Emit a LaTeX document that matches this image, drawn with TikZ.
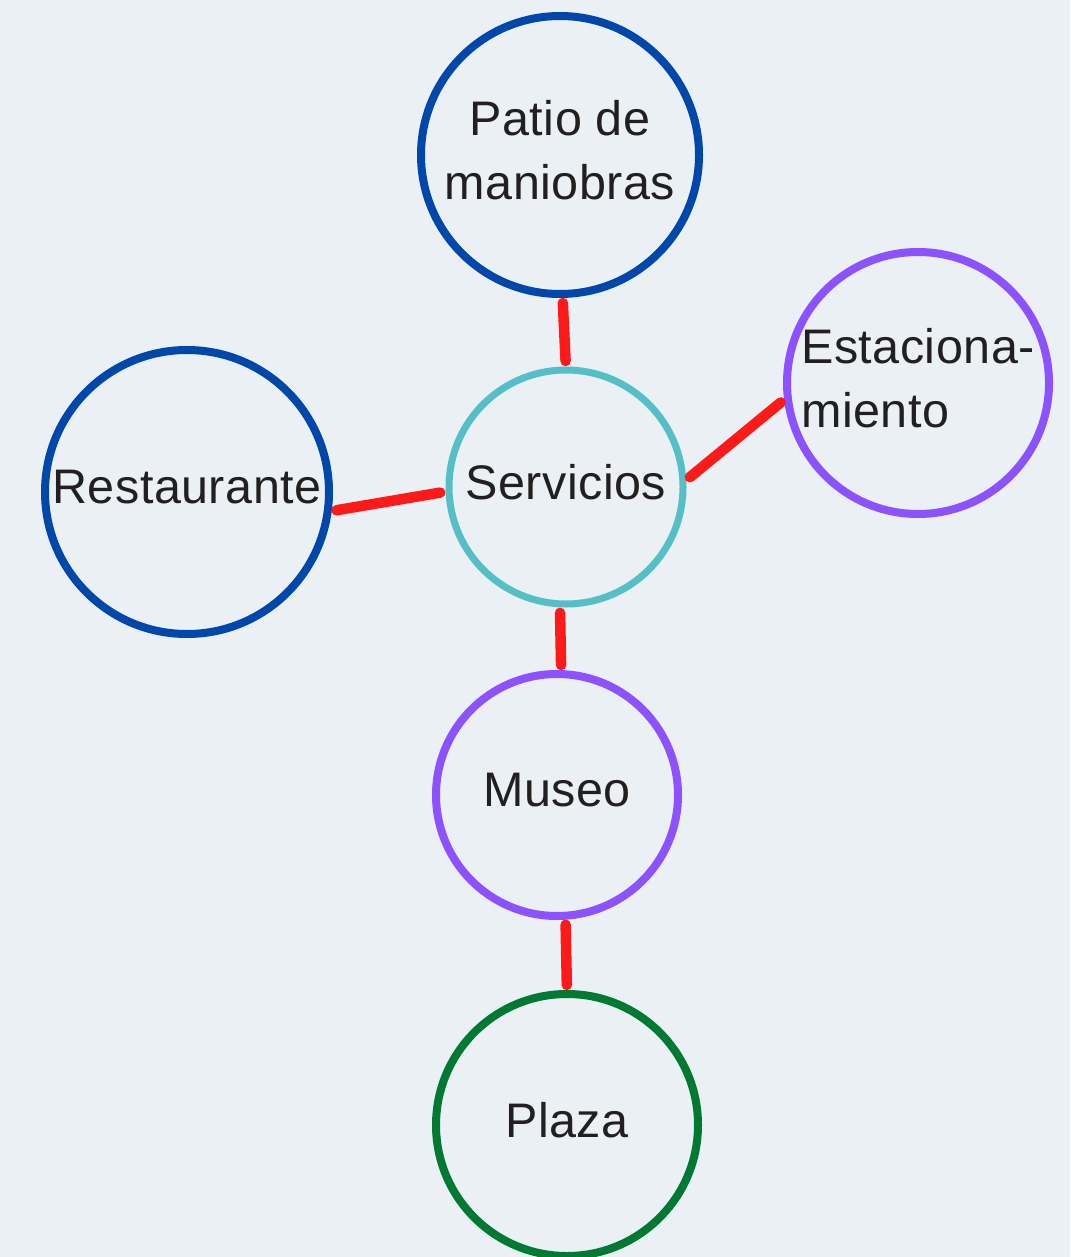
\documentclass[tikz,border=0pt]{standalone}
\usepackage{fontspec}
\setmainfont[LetterSpace=1]{Liberation Sans}
\definecolor{bgc}{HTML}{EAF0F3}
\definecolor{cblue}{HTML}{0047AB}
\definecolor{cpurple}{HTML}{8C52FF}
\definecolor{cteal}{HTML}{55BFC8}
\definecolor{cgreen}{HTML}{007A33}
\definecolor{cred}{HTML}{FF1A1A}
\definecolor{ctext}{HTML}{231F20}
\tikzset{
  bubble/.style={circle, draw, inner sep=0pt, outer sep=0pt, line width=8pt,
    text=ctext, align=center, text depth=10pt,
    font=\fontsize{48.5}{64}\selectfont},
  link/.style={draw=cred, line width=10.5pt, line cap=round,
    shorten <=9pt, shorten >=9pt}
}
\begin{document}
\begin{tikzpicture}[x=1pt,y=-1pt]
\fill[bgc] (0,0) rectangle (1070,1257);
\useasboundingbox (0,0) rectangle (1070,1257);
\clip (0,0) rectangle (1070,1257);
\node[bubble, draw=cblue, minimum size=278pt] (patio) at (560,155) {Patio de\\maniobras};
\node[bubble, draw=cpurple, minimum size=262pt, align=left] (est) at (918,383) {Estaciona-\\miento};
\node[bubble, draw=cblue, minimum size=284pt] (rest) at (187,492) {Restaurante};
\node[bubble, draw=cteal, line width=7pt, minimum size=234pt] (serv) at (566,487) {Servicios};
\node[bubble, draw=cpurple, minimum size=242pt] (museo) at (557,795) {Museo};
\node[bubble, draw=cgreen, minimum size=262pt] (plaza) at (567,1125) {Plaza};
\draw[link] (patio.-89) -- (serv.90.5);
\draw[link] (serv.2) -- (est.186);
\draw[link] (rest.-8.8) -- (serv.182.3);
\draw[link] (serv.-93) -- (museo.88.6);
\draw[link] (museo.-86.8) -- (plaza.90);
\end{tikzpicture}
\end{document}
